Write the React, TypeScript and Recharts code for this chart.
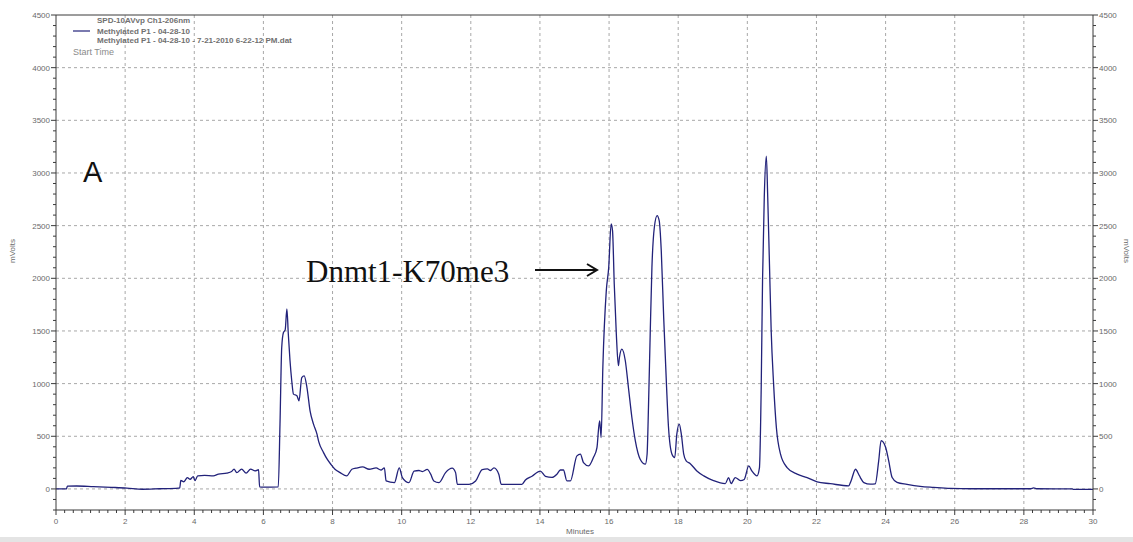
import { LineChart, Line, XAxis, YAxis, ReferenceLine } from 'recharts';

// retention time (min)
const minutes = [
  0, 0.3, 0.33, 0.6, 1.08, 1.6, 2.05, 2.5, 3.0, 3.54, 3.58, 3.61, 3.7, 3.8, 3.88, 3.97, 4.02, 4.1, 4.3, 4.55,
  4.7, 4.94, 5.08, 5.15, 5.23, 5.37, 5.5, 5.63, 5.76, 5.86, 5.89, 6.0, 6.43, 6.48, 6.53, 6.58, 6.63, 6.68, 6.72, 6.77,
  6.82, 6.87, 6.97, 7.03, 7.11, 7.18, 7.26, 7.35, 7.45, 7.55, 7.6, 7.74, 7.85, 7.96, 8.07, 8.22, 8.41, 8.56, 8.68, 8.87,
  9.06, 9.26, 9.4, 9.5, 9.55, 9.79, 9.93, 10.02, 10.21, 10.36, 10.5, 10.6, 10.74, 10.84, 10.93, 11.08, 11.27, 11.46, 11.56, 11.61,
  11.95, 12.14, 12.33, 12.48, 12.57, 12.67, 12.81, 12.88, 13.48, 13.58, 13.77, 14.01, 14.16, 14.35, 14.49, 14.59, 14.68, 14.78, 14.88, 15.07,
  15.17, 15.26, 15.41, 15.55, 15.65, 15.7, 15.73, 15.77, 15.82, 15.92, 15.99, 16.06, 16.1, 16.15, 16.21, 16.27, 16.3, 16.37, 16.47, 16.56,
  16.66, 16.76, 16.9, 17.05, 17.1, 17.14, 17.19, 17.24, 17.31, 17.39, 17.45, 17.51, 17.58, 17.66, 17.72, 17.82, 17.9, 17.96, 18.03, 18.09,
  18.16, 18.23, 18.35, 18.54, 18.74, 19.02, 19.36, 19.46, 19.53, 19.65, 19.8, 19.91, 20.04, 20.13, 20.28, 20.35, 20.4, 20.44, 20.49, 20.55,
  20.59, 20.64, 20.69, 20.76, 20.84, 20.96, 21.15, 21.44, 21.73, 22.02, 22.4, 22.93, 23.0, 23.13, 23.22, 23.27, 23.37, 23.56, 23.7, 23.8,
  23.87, 24.0, 24.09, 24.19, 24.33, 24.62, 25.0, 25.39, 25.88, 26.5, 28.2, 28.28, 28.38, 29.4, 29.44, 30.0,
];

// detector signal (mV)
const mVolts = [
  0, 0, 26, 28, 22, 15, 8, -3, 2, 8, 10, 80, 68, 108, 92, 116, 80, 124, 128, 124,
  140, 150, 165, 188, 155, 188, 150, 188, 172, 182, 20, 18, 20, 615, 1343, 1486, 1510, 1709, 1473, 1217,
  1027, 900, 884, 837, 1058, 1074, 963, 742, 615, 520, 450, 345, 280, 230, 187, 155, 124, 187, 197, 209,
  187, 200, 180, 200, 76, 60, 200, 108, 60, 170, 175, 165, 185, 140, 76, 60, 155, 197, 155, 44,
  44, 76, 183, 190, 175, 200, 140, 44, 44, 85, 120, 170, 120, 110, 140, 180, 180, 76, 76, 314,
  330, 250, 219, 300, 393, 583, 646, 488, 1153, 1883, 2104, 2516, 2453, 1946, 1471, 1170, 1249, 1328, 1217, 963,
  678, 456, 282, 235, 330, 773, 1471, 2104, 2485, 2596, 2548, 2263, 1629, 995, 583, 330, 298, 520, 615, 520,
  330, 266, 240, 171, 124, 79, 50, 108, 50, 108, 79, 90, 219, 171, 124, 200, 932, 1977, 2770, 3160,
  2770, 2137, 1502, 995, 583, 330, 203, 140, 108, 67, 50, 29, 76, 187, 140, 108, 60, 45, 48, 266,
  459, 396, 266, 108, 63, 44, 25, 15, 5, 2, 2, 10, 2, 0, -5, -5,
];

const xLabels = [0, 2, 4, 6, 8, 10, 12, 14, 16, 18, 20, 22, 24, 26, 28, 30];
const yLabels = [0, 500, 1000, 1500, 2000, 2500, 3000, 3500, 4000, 4500];

// minor tick marks: every 0.25 min and every 100 mV
const xTicks = Array.from({ length: 121 }, (_, i) => i * 0.25);
const yTicks = Array.from({ length: 48 }, (_, i) => -200 + i * 100);

const trace = minutes.map((t, i) => ({ t, mv: mVolts[i] }));

const AXIS = '#3a3a3a';
const LABEL = '#6a6a6a';
const TRACE = '#22227a';
const GRID = '#a8a8a8';

const isXLabel = (v: number) => xLabels.includes(v);
const isYLabel = (v: number) => yLabels.includes(v);

const BottomTick = (props: any) => {
  const { x, y, payload } = props;
  const major = isXLabel(payload.value);
  return (
    <g>
      <line x1={x} x2={x} y1={y} y2={y + (major ? 5 : 3)} stroke={AXIS} />
      {major && (
        <text x={x} y={y + 14} textAnchor="middle" fontSize={8} fill={LABEL} fontFamily="Liberation Sans, Arial">
          {payload.value}
        </text>
      )}
    </g>
  );
};

const LeftTick = (props: any) => {
  const { x, y, payload } = props;
  const major = isYLabel(payload.value);
  return (
    <g>
      <line x1={x - (major ? 5 : 3)} x2={x} y1={y} y2={y} stroke={AXIS} />
      {major && (
        <text x={x - 6} y={y + 3} textAnchor="end" fontSize={8} fill={LABEL} fontFamily="Liberation Sans, Arial">
          {payload.value}
        </text>
      )}
    </g>
  );
};

const RightTick = (props: any) => {
  const { x, y, payload } = props;
  const major = isYLabel(payload.value);
  return (
    <g>
      <line x1={x} x2={x + (major ? 5 : 3)} y1={y} y2={y} stroke={AXIS} />
      {major && (
        <text x={x + 6} y={y + 3} textAnchor="start" fontSize={8} fill={LABEL} fontFamily="Liberation Sans, Arial">
          {payload.value}
        </text>
      )}
    </g>
  );
};

export default function App() {
  return (
    <div style={{ position: 'absolute', left: 0, top: 0, width: 1133, height: 542, background: '#fff', overflow: 'hidden' }}>
      <LineChart width={1133} height={542} data={trace} margin={{ top: 15, right: 0, bottom: 0, left: 10 }}>
        <XAxis
          dataKey="t"
          type="number"
          domain={[0, 30]}
          ticks={xTicks}
          interval={0}
          tickSize={0}
          tickMargin={0}
          tick={BottomTick}
          axisLine={{ stroke: AXIS }}
          height={32}
          allowDataOverflow
        />
        <YAxis
          yAxisId="left"
          type="number"
          domain={[-200, 4500]}
          ticks={yTicks}
          interval={0}
          tickSize={0}
          tickMargin={0}
          tick={LeftTick}
          axisLine={{ stroke: AXIS }}
          width={46}
          allowDataOverflow
        />
        <YAxis
          yAxisId="right"
          orientation="right"
          type="number"
          domain={[-200, 4500]}
          ticks={yTicks}
          interval={0}
          tickSize={0}
          tickMargin={0}
          tick={RightTick}
          axisLine={{ stroke: AXIS }}
          width={40}
          allowDataOverflow
        />
        {xLabels.slice(1, -1).map((v) => (
          <ReferenceLine key={'gx' + v} x={v} yAxisId="left" stroke={GRID} strokeDasharray="3 3" />
        ))}
        {yLabels.slice(0, -1).map((v) => (
          <ReferenceLine key={'gy' + v} y={v} yAxisId="left" stroke={GRID} strokeDasharray="3 3" />
        ))}
        <ReferenceLine y={4500} yAxisId="left" stroke={AXIS} />
        <Line
          yAxisId="left"
          dataKey="mv"
          type="monotone"
          stroke={TRACE}
          strokeWidth={1.3}
          dot={false}
          activeDot={false}
          isAnimationActive={false}
        />
      </LineChart>

      <svg width={1133} height={542} style={{ position: 'absolute', left: 0, top: 0, pointerEvents: 'none' }}>
        {/* detector / file header */}
        <g fontFamily="Liberation Sans, Arial" fontSize={8} fill="#707070">
          <text x={97} y={23} fontWeight="bold">SPD-10AVvp Ch1-206nm</text>
          <line x1={73} x2={90} y1={31} y2={31} stroke={TRACE} strokeWidth={1.2} />
          <text x={97} y={34} fontWeight="bold">Methylated P1 - 04-28-10</text>
          <text x={97} y={43} fontWeight="bold">Methylated P1 - 04-28-10 - 7-21-2010 6-22-12 PM.dat</text>
          <text x={73} y={55} fontSize={9} fill="#8a8a8a">Start Time</text>
        </g>

        {/* axis titles */}
        <text x={0} y={0} transform="translate(15,251) rotate(-90)" textAnchor="middle" fontSize={8} fill={LABEL} fontFamily="Liberation Sans, Arial">
          mVolts
        </text>
        <text x={0} y={0} transform="translate(1124,251) rotate(90)" textAnchor="middle" fontSize={8} fill={LABEL} fontFamily="Liberation Sans, Arial">
          mVolts
        </text>
        <text x={580} y={534} textAnchor="middle" fontSize={8} fill={LABEL} fontFamily="Liberation Sans, Arial">
          Minutes
        </text>

        {/* panel letter and peak annotation */}
        <text x={83} y={182} fontSize={29} fill="#111" fontFamily="Liberation Sans, Arial">A</text>
        <text x={306} y={282} fontSize={31} fill="#111" fontFamily="Liberation Serif, Times New Roman, serif">
          Dnmt1-K70me3
        </text>
        <line x1={535} x2={596} y1={270} y2={270} stroke="#111" strokeWidth={2} />
        <polyline points="587,264 597,270 587,276" fill="none" stroke="#111" strokeWidth={2} />
      </svg>

      <div style={{ position: 'absolute', left: 0, top: 537, width: 1133, height: 5, background: '#e4e4e4' }} />
    </div>
  );
}
